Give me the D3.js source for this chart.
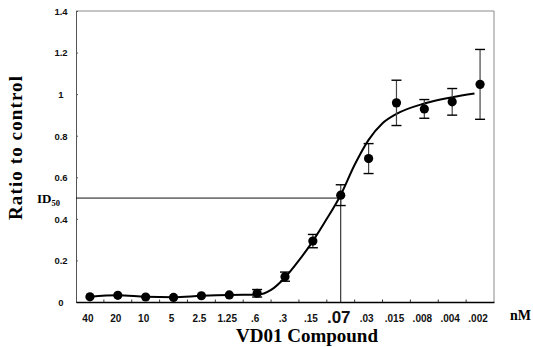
<!DOCTYPE html>
<html>
<head>
<meta charset="utf-8">
<script src="https://cdn.jsdelivr.net/npm/d3@7/dist/d3.min.js"></script>
<style>
  body { margin: 0; background: #fff; }
  svg { display: block; }
</style>
</head>
<body>
<div id="chart"></div>
<script>
  // doses (nM), highest to lowest
  const doses = ["40", "20", "10", "5", "2.5", "1.25", ".6", ".3", ".15", ".07", ".03", ".015", ".008", ".004", ".002"];
  const ratio = [0.025, 0.032, 0.024, 0.022, 0.030, 0.034, 0.042, 0.122, 0.293, 0.514, 0.690, 0.958, 0.929, 0.963, 1.047];
  const err   = [0, 0, 0, 0, 0, 0, 0.018, 0.022, 0.032, 0.050, 0.072, 0.109, 0.045, 0.064, 0.168];

  // fitted curve (position in dose steps, value)
  const fitPos = [0, 1, 2, 3, 4, 5, 6, 6.5, 7, 7.5, 8, 8.5, 9, 9.5, 10, 10.5, 11, 12, 13, 13.8];
  const fitVal = [0.025, 0.032, 0.025, 0.023, 0.030, 0.034, 0.035, 0.058, 0.118, 0.200, 0.293, 0.400, 0.515, 0.660, 0.780, 0.860, 0.905, 0.955, 0.985, 1.003];

  const yTicks = [0, 0.2, 0.4, 0.6, 0.8, 1, 1.2, 1.4];
  const id50 = 0.5, id50Dose = ".07";

  const W = 533, H = 347;
  const m = { left: 76, right: 39, top: 11, bottom: 45 };

  const svg = d3.select("#chart").append("svg").attr("width", W).attr("height", H);

  const x = d3.scaleBand().domain(doses).range([m.left, W - m.right]);
  const xc = d => x(d) + x.bandwidth() / 2;
  const xi = d3.scaleLinear().domain([0, doses.length - 1]).range([xc(doses[0]), xc(doses[doses.length - 1])]);
  const y = d3.scaleLinear().domain([0, 1.4]).range([H - m.bottom, m.top]);

  const bold = "'Liberation Sans', Arial, sans-serif";
  const serif = "'Liberation Serif', 'Times New Roman', serif";

  // frame (top and right)
  svg.append("path")
    .attr("d", `M${m.left},${y(1.4)}H${W - m.right}V${y(0)}`)
    .attr("fill", "none").attr("stroke", "#8a8a8a").attr("stroke-width", 1);

  // y axis
  const yAxis = svg.append("g").attr("transform", `translate(${m.left},0)`)
    .call(d3.axisLeft(y).tickValues(yTicks).tickSize(-2).tickPadding(0).tickFormat(d3.format("~g")));
  yAxis.select(".domain").attr("stroke", "#555");
  yAxis.selectAll(".tick line").attr("stroke", "#555");
  yAxis.selectAll(".tick text")
    .attr("x", -15).attr("text-anchor", "middle").attr("dy", "0.35em")
    .attr("font-family", bold).attr("font-weight", "bold").attr("font-size", 9.5).attr("fill", "#111");

  // x axis
  const xAxis = svg.append("g").attr("transform", `translate(0,${y(0)})`)
    .call(d3.axisBottom(x).tickSize(0).tickPadding(0));
  xAxis.select(".domain").attr("stroke", "#000").attr("stroke-width", 1.3);
  xAxis.selectAll(".tick text")
    .attr("y", 20).attr("dx", -2)
    .attr("font-family", bold).attr("font-weight", "bold")
    .attr("font-size", d => d === id50Dose ? 17 : 10).attr("fill", "#111")
    .attr("dy", d => d === id50Dose ? 0.5 : 0);
  // inner ticks at band boundaries
  svg.append("g").selectAll("line").data(doses.slice(1)).join("line")
    .attr("x1", d => x(d)).attr("x2", d => x(d))
    .attr("y1", y(0)).attr("y2", y(0) - 2.5)
    .attr("stroke", "#333");

  // ID50 guide lines
  svg.append("line")
    .attr("x1", m.left).attr("x2", xc(id50Dose))
    .attr("y1", y(id50)).attr("y2", y(id50))
    .attr("stroke", "#111").attr("stroke-width", 1);
  svg.append("line")
    .attr("x1", xc(id50Dose)).attr("x2", xc(id50Dose))
    .attr("y1", y(id50)).attr("y2", y(0))
    .attr("stroke", "#111").attr("stroke-width", 1);

  // fitted curve
  const fit = fitPos.map((p, i) => [p, fitVal[i]]);
  svg.append("path")
    .datum(fit)
    .attr("fill", "none").attr("stroke", "#000").attr("stroke-width", 2)
    .attr("d", d3.line().x(d => xi(d[0])).y(d => y(d[1])).curve(d3.curveMonotoneX));

  // error bars
  const eb = svg.append("g");
  doses.forEach((d, i) => {
    if (!err[i]) return;
    const cx = xc(d);
    eb.append("line").attr("x1", cx).attr("x2", cx)
      .attr("y1", y(ratio[i] + err[i])).attr("y2", y(ratio[i] - err[i]))
      .attr("stroke", "#444").attr("stroke-width", 1.2);
    [ratio[i] + err[i], ratio[i] - err[i]].forEach(v => {
      eb.append("line").attr("x1", cx - 5).attr("x2", cx + 5)
        .attr("y1", y(v)).attr("y2", y(v))
        .attr("stroke", "#000").attr("stroke-width", 1.4);
    });
  });

  // points
  svg.append("g").selectAll("circle").data(doses).join("circle")
    .attr("cx", d => xc(d)).attr("cy", (d, i) => y(ratio[i]))
    .attr("r", 4.6).attr("fill", "#000");

  // labels
  svg.append("text")
    .attr("transform", `translate(22,${(76 + 220) / 2}) rotate(-90)`)
    .attr("text-anchor", "middle")
    .attr("textLength", 144).attr("lengthAdjust", "spacing")
    .attr("font-family", serif).attr("font-weight", "bold").attr("font-size", 19)
    .text("Ratio  to  control");

  svg.append("text")
    .attr("x", 307).attr("y", 342)
    .attr("text-anchor", "middle")
    .attr("font-family", serif).attr("font-weight", "bold").attr("font-size", 19)
    .text("VD01 Compound");

  svg.append("text")
    .attr("x", 510).attr("y", 320)
    .attr("font-family", serif).attr("font-weight", "bold").attr("font-size", 14)
    .text("nM");

  const idl = svg.append("text")
    .attr("x", 37).attr("y", 203)
    .attr("font-family", serif).attr("font-weight", "bold").attr("font-size", 13);
  idl.append("tspan").text("ID");
  idl.append("tspan").attr("font-size", 8.5).attr("dy", 3).text("50");
</script>
</body>
</html>
